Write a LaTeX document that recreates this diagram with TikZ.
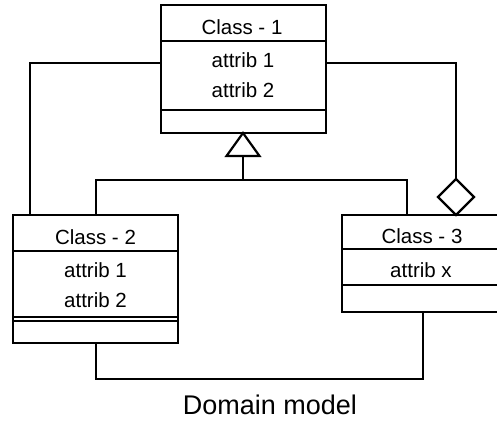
\documentclass[tikz,border=0pt]{standalone}
\usepackage{fontspec}
\setmainfont{Liberation Sans}
\usetikzlibrary{shapes.geometric,calc}

\tikzset{
  classbox/.style={draw, line width=2.6pt, inner sep=0pt, outer sep=0pt, fill=white},
  sep/.style={line width=2.4pt},
  wire/.style={line width=2.2pt},
  label/.style={anchor=base, inner sep=0pt, font=\fontsize{20.5}{24}\selectfont},
  title/.style={anchor=base, inner sep=0pt, font=\fontsize{27}{32}\selectfont},
}

\begin{document}
\begin{tikzpicture}[x=1pt, y=-1pt]
  \useasboundingbox (0,0) rectangle (497,420);
  \clip (0,0) rectangle (497,420);

  % class boxes
  \node[classbox, minimum width=165pt, minimum height=128pt] (c1) at (243.5,69) {};
  \node[classbox, minimum width=165pt, minimum height=128pt] (c2) at (95.5,279) {};
  \node[classbox, minimum width=160pt, minimum height=97pt] (c3) at (422,263.5) {};

  % compartments
  \draw[sep] (c1.west |- 0,41) -- (c1.east |- 0,41);
  \draw[sep] (c1.west |- 0,110) -- (c1.east |- 0,110);
  \draw[sep] (c2.west |- 0,251) -- (c2.east |- 0,251);
  \draw[line width=1.9pt] (c2.west |- 0,316.7) -- (c2.east |- 0,316.7);
  \draw[line width=1.9pt] (c2.west |- 0,320.8) -- (c2.east |- 0,320.8);
  \draw[sep] (c3.west |- 0,249) -- (c3.east |- 0,249);
  \draw[sep] (c3.west |- 0,285) -- (c3.east |- 0,285);

  % texts
  \node[label] (n1) at (242,35) {Class - 1};
  \node[label] (a11) at (243,67) {attrib 1};
  \node[label] (a12) at (243,97) {attrib 2};
  \node[label] (n2) at (95.5,244) {Class - 2};
  \node[label] (a21) at (95.5,277) {attrib 1};
  \node[label] (a22) at (95.5,307) {attrib 2};
  \node[label] (n3) at (422,243) {Class - 3};
  \node[label] (a31) at (421,277) {attrib x};
  \node[title] (cap) at (270,414) {Domain model};

  % routing points
  \coordinate (j1) at (30,63);
  \coordinate (gen) at (243,180);
  \coordinate (gx2) at (96,0);
  \coordinate (gx3) at (407,0);
  \coordinate (j2) at (96,379);
  \coordinate (ax3) at (423,0);
  \coordinate (tip) at (c1.south -| gen);
  \coordinate (tb) at ($(tip)+(0,23)$);

  % association Class-1 -- Class-2
  \draw[wire] (c1.west |- j1) -- (j1) -- (j1 |- c2.north);

  % generalisation
  \draw[wire] (c2.north -| gx2) |- (gen) -| (c3.north -| gx3);
  \draw[wire] (tb) -- (gen);
  \draw[wire, fill=white, line join=miter] (tip) -- ($(tb)+(-16.5,0)$) -- ($(tb)+(16.5,0)$) -- cycle;

  % aggregation Class-3 -- Class-1
  \node[diamond, draw, line width=2.2pt, fill=white, inner sep=0pt, outer sep=0pt,
        minimum width=36pt, minimum height=36pt] (dia) at (456,197) {};
  \draw[wire] (dia.north) |- (c1.east |- j1);

  % association Class-2 -- Class-3
  \draw[wire] (c2.south -| j2) -- (j2) -| (c3.south -| ax3);
\end{tikzpicture}
\end{document}
